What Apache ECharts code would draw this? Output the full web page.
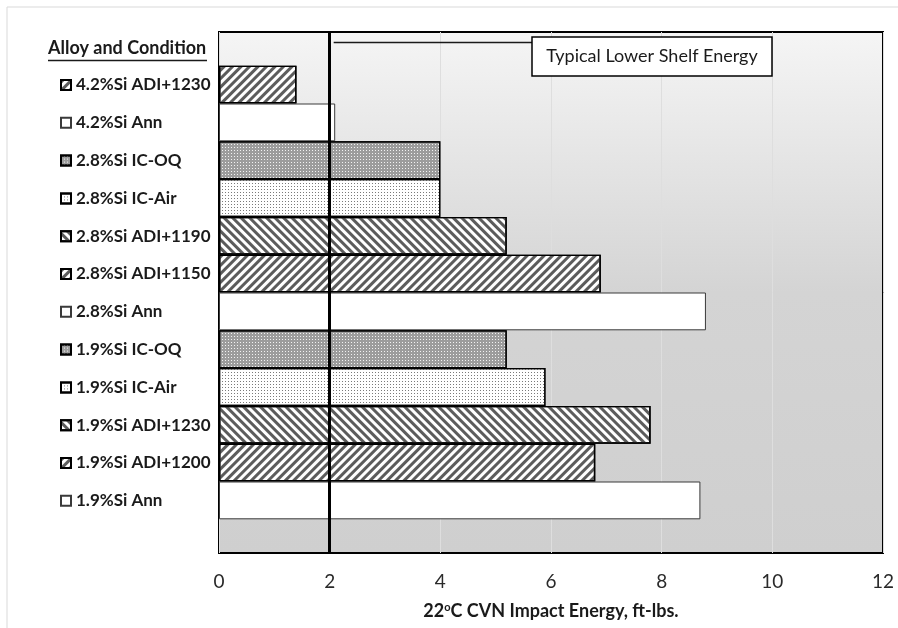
<!DOCTYPE html>
<html>
<head>
<meta charset="utf-8">
<script src="https://cdn.jsdelivr.net/npm/echarts@6/dist/echarts.min.js"></script>
<style>
  html, body { margin: 0; padding: 0; background: #fff; }
  #chart { width: 898px; height: 628px; }
</style>
</head>
<body>
<div id="chart"></div>
<script>
// Alloy / heat-treatment conditions, listed top to bottom
const alloyLabels = [
  '4.2%Si ADI+1230',
  '4.2%Si Ann',
  '2.8%Si IC-OQ',
  '2.8%Si IC-Air',
  '2.8%Si ADI+1190',
  '2.8%Si ADI+1150',
  '2.8%Si Ann',
  '1.9%Si IC-OQ',
  '1.9%Si IC-Air',
  '1.9%Si ADI+1230',
  '1.9%Si ADI+1200',
  '1.9%Si Ann'
];
// Room-temperature Charpy V-notch impact energy, ft-lbs
const impactEnergy = [1.4, 2.1, 4.0, 4.0, 5.2, 6.9, 8.8, 5.2, 5.9, 7.8, 6.8, 8.7];
// Fill style used for each condition
const fillKind = ['fwd', 'plain', 'dense', 'dots', 'back', 'fwd', 'plain', 'dense', 'dots', 'back', 'fwd', 'plain'];
// Typical lower shelf energy reference
const lowerShelf = 2;
// Energy axis
const xMin = 0, xMax = 12, xStep = 2;

const FONT = 'Lato';

function styleFor(kind) {
  if (kind === 'fwd' || kind === 'back') {
    return {
      color: '#ffffff', borderColor: '#000', borderWidth: 1.4,
      decal: {
        symbol: 'rect', symbolSize: 1, color: '#5c5c5c',
        dashArrayX: [1, 0], dashArrayY: [2.4, 2.9],
        rotation: kind === 'fwd' ? -Math.PI / 4 : Math.PI / 4
      }
    };
  }
  if (kind === 'dense') {
    return {
      color: '#9c9c9c', borderColor: '#000', borderWidth: 1.2,
      decal: {
        symbol: 'rect', symbolSize: 1, color: '#f2f2f2',
        dashArrayX: [1, 2], dashArrayY: [1, 2], rotation: 0
      }
    };
  }
  if (kind === 'dots') {
    return {
      color: '#ffffff', borderColor: '#000', borderWidth: 1.2,
      decal: {
        symbol: 'rect', symbolSize: 1, color: '#7a7a7a',
        dashArrayX: [1, 1.6], dashArrayY: [1, 1.6], rotation: 0
      }
    };
  }
  return { color: '#ffffff', borderColor: '#3a3a3a', borderWidth: 1 };
}

const chart = echarts.init(document.getElementById('chart'));

const series = alloyLabels.map((name, i) => {
  const s = {
    name: name,
    type: 'bar',
    barWidth: 37.8,
    barGap: '0%',
    data: [impactEnergy[i]],
    itemStyle: styleFor(fillKind[i]),
    emphasis: { disabled: true },
    animation: false
  };
  if (i === 0) {
    s.markLine = {
      silent: true,
      symbol: 'none',
      label: { show: false },
      lineStyle: { color: '#000', width: 3, type: 'solid' },
      data: [{ xAxis: lowerShelf }],
      animation: false
    };
  }
  return s;
});

chart.setOption({
  animation: false,
  backgroundColor: '#ffffff',
  title: {
    text: 'Alloy and Condition',
    left: 48, top: 39, padding: 0,
    textStyle: { fontFamily: FONT, fontWeight: 'bold', fontSize: 18, color: '#1a1a1a' }
  },
  legend: {
    orient: 'vertical',
    left: 60, top: 75, padding: 0,
    itemWidth: 10, itemHeight: 10, itemGap: 17.8,
    icon: 'rect',
    selectedMode: false,
    data: alloyLabels,
    textStyle: { fontFamily: FONT, fontWeight: 'bold', fontSize: 17, lineHeight: 20, color: '#1a1a1a' }
  },
  grid: {
    left: 219, right: 15, top: 32, bottom: 75,
    show: true,
    borderColor: '#000', borderWidth: 2,
    backgroundColor: {
      type: 'linear', x: 0, y: 0, x2: 0, y2: 1,
      colorStops: [
        { offset: 0, color: '#f5f5f5' },
        { offset: 0.5, color: '#d4d4d4' },
        { offset: 1, color: '#cfcfcf' }
      ]
    }
  },
  xAxis: {
    type: 'value',
    min: xMin, max: xMax, interval: xStep,
    axisLine: { show: false },
    axisTick: { show: false },
    splitLine: { show: true, lineStyle: { color: '#dedede', width: 1 } },
    axisLabel: { margin: 19, fontFamily: FONT, fontSize: 19, color: '#2a2a2a' },
    name: '22{sup|o}C CVN Impact Energy, ft-lbs.',
    nameLocation: 'middle',
    nameGap: 49,
    nameTextStyle: {
      fontFamily: FONT, fontWeight: 'bold', fontSize: 18, color: '#1a1a1a',
      rich: {
        sup: { fontFamily: FONT, fontWeight: 'bold', fontSize: 11, color: '#1a1a1a', verticalAlign: 'top', padding: [0, 0, 7, 0] }
      }
    }
  },
  yAxis: {
    type: 'category',
    data: [''],
    axisLine: { show: false },
    axisTick: { show: false },
    axisLabel: { show: false },
    splitLine: { show: false }
  },
  series: series
});

// Callout from the lower-shelf line to its caption box
const shelfX = chart.convertToPixel({ xAxisIndex: 0 }, lowerShelf);
const boxLeft = 532, boxTop = 37, boxW = 240, boxH = 39;
chart.setOption({
  graphic: [
    {
      type: 'rect', silent: true, z: 0,
      shape: { x: 7, y: 7, width: 900, height: 640 },
      style: { fill: 'none', stroke: '#d9d9d9', lineWidth: 1 }
    },
    {
      type: 'line', silent: true, z: 100,
      shape: { x1: 48, y1: 60.5, x2: 207, y2: 60.5 },
      style: { stroke: '#1a1a1a', lineWidth: 1.4 }
    },
    {
      type: 'line', silent: true, z: 100,
      shape: { x1: shelfX + 4, y1: 42.5, x2: boxLeft, y2: 42.5 },
      style: { stroke: '#1a1a1a', lineWidth: 1.4 }
    },
    {
      type: 'rect', silent: true, z: 100,
      shape: { x: boxLeft, y: boxTop, width: boxW, height: boxH },
      style: { fill: '#ffffff', stroke: '#000', lineWidth: 1.5 }
    },
    {
      type: 'text', silent: true, z: 101,
      x: boxLeft + boxW / 2, y: boxTop + boxH / 2,
      style: {
        text: 'Typical Lower Shelf Energy',
        fontFamily: FONT, fontSize: 18, fill: '#1a1a1a',
        align: 'center', verticalAlign: 'middle'
      }
    }
  ]
});
</script>
</body>
</html>
